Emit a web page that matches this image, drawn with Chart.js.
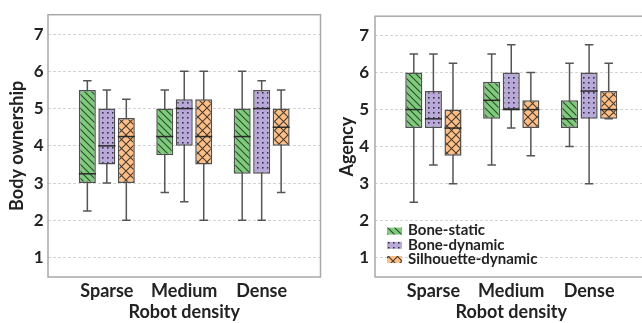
<!DOCTYPE html>
<html><head><meta charset="utf-8">
<script src="https://cdn.jsdelivr.net/npm/chart.js@4/dist/chart.umd.min.js"></script>
<style>
html,body{margin:0;padding:0;background:#fff;overflow:hidden;width:642px;height:323px;}
#wrap{position:relative;width:642px;height:323px;overflow:hidden;}
#c1{position:absolute;left:0;top:0;}
#c2{position:absolute;left:321px;top:0;}
</style></head><body>
<div id="wrap"><canvas id="c1" width="322" height="323"></canvas><canvas id="c2" width="330" height="323"></canvas></div>
<script>
const categories = ['Sparse', 'Medium', 'Dense'];
const seriesNames = ['Bone-static', 'Bone-dynamic', 'Silhouette-dynamic'];
const yTicks = [1, 2, 3, 4, 5, 6, 7];
const xTitle = 'Robot density';
// each entry: [whisker low, Q1, median, Q3, whisker high], one per category
const bodyBoneStatic     = [[2.25, 3, 3.25, 5.5, 5.75], [2.75, 3.75, 4.25, 5, 5.5], [2, 3.25, 4.25, 5, 6]];
const bodyBoneDynamic    = [[3, 3.5, 4, 5, 5.5], [2.5, 4, 5, 5.25, 6], [2, 3.25, 5, 5.5, 5.75]];
const bodySilhouette     = [[2, 3, 4.25, 4.75, 5.25], [2, 3.5, 4.25, 5.25, 6], [2.75, 4, 4.5, 5, 5.5]];
const agencyBoneStatic   = [[2.5, 4.5, 5, 6, 6.5], [3.5, 4.75, 5.25, 5.75, 6.5], [4, 4.5, 4.75, 5.25, 6.25]];
const agencyBoneDynamic  = [[3.5, 4.5, 4.75, 5.5, 6.5], [4.5, 5, 5, 6, 6.75], [3, 4.75, 5.5, 6, 6.75]];
const agencySilhouette   = [[3, 3.75, 4.5, 5, 6.25], [3.75, 4.5, 5, 5.25, 6], [4.75, 4.75, 5, 5.5, 6.25]];

const FONT = 'Lato, "Open Sans", sans-serif';
const TXT = '#222';

function makePattern(kind, bg, fg) {
  const s = kind === 'hatch' ? 7 : (kind === 'dots' ? 5 : 9);
  const c = document.createElement('canvas'); c.width = s; c.height = s;
  const g = c.getContext('2d');
  g.fillStyle = bg; g.fillRect(0, 0, s, s);
  g.strokeStyle = fg; g.fillStyle = fg; g.lineWidth = 1.1;
  if (kind === 'hatch') {
    g.beginPath();
    g.moveTo(-1, -1); g.lineTo(s + 1, s + 1);
    g.moveTo(-1, s - 1); g.lineTo(1, s + 1);
    g.moveTo(s - 1, -1); g.lineTo(s + 1, 1);
    g.stroke();
  } else if (kind === 'dots') {
    g.fillRect(2, 2, 1.6, 1.6);
  } else {
    g.beginPath();
    g.moveTo(-1, -1); g.lineTo(s + 1, s + 1);
    g.moveTo(s + 1, -1); g.lineTo(-1, s + 1);
    g.stroke();
  }
  return g.createPattern(c, 'repeat');
}
const fills = [
  makePattern('hatch', '#7fcb7c', '#2f4a2f'),
  makePattern('dots', '#b9a9d9', '#35304a'),
  makePattern('cross', '#fdbf87', '#4a3c2e')
];

function datasetsFrom(seriesList) {
  return seriesList.map((s, k) => ({
    label: seriesNames[k],
    data: categories.map((c, i) => ({ x: i, y: [s[i][1], s[i][3]], stats: s[i] })),
    backgroundColor: fills[k],
    borderColor: '#505050',
    borderWidth: 1.5,
    borderSkipped: false,
    categoryPercentage: 0.755,
    barPercentage: 0.872
  }));
}

const boxPlugin = {
  id: 'box',
  beforeDatasetsDraw(chart) {
    const ctx = chart.ctx, ys = chart.scales.y;
    ctx.save();
    ctx.strokeStyle = '#555'; ctx.lineWidth = 1.5;
    chart.data.datasets.forEach((ds, di) => {
      chart.getDatasetMeta(di).data.forEach((bar, i) => {
        const st = ds.data[i].stats;
        const lo = ys.getPixelForValue(st[0]), hi = ys.getPixelForValue(st[4]);
        const cw = bar.width / 2;
        ctx.beginPath();
        ctx.moveTo(bar.x, lo); ctx.lineTo(bar.x, hi);
        ctx.moveTo(bar.x - cw / 2, lo); ctx.lineTo(bar.x + cw / 2, lo);
        ctx.moveTo(bar.x - cw / 2, hi); ctx.lineTo(bar.x + cw / 2, hi);
        ctx.stroke();
      });
    });
    ctx.restore();
  },
  afterDatasetsDraw(chart) {
    const ctx = chart.ctx, ys = chart.scales.y;
    ctx.save();
    ctx.strokeStyle = '#2a2a2a'; ctx.lineWidth = 1.5;
    chart.data.datasets.forEach((ds, di) => {
      chart.getDatasetMeta(di).data.forEach((bar, i) => {
        const m = ys.getPixelForValue(ds.data[i].stats[2]);
        ctx.beginPath();
        ctx.moveTo(bar.x - bar.width / 2, m); ctx.lineTo(bar.x + bar.width / 2, m);
        ctx.stroke();
      });
    });
    const a = chart.chartArea;
    ctx.strokeStyle = '#a8a8a8'; ctx.lineWidth = 1.5;
    ctx.strokeRect(a.left, a.top, a.right - a.left, a.bottom - a.top);
    ctx.restore();
  }
};

const legendPlugin = {
  id: 'boxLegend',
  afterDraw(chart, args, opts) {
    if (!opts.show) return;
    const ctx = chart.ctx, a = chart.chartArea;
    const n = chart.data.datasets.length;
    ctx.save();
    ctx.font = 'bold 15px ' + FONT;
    ctx.textBaseline = 'middle'; ctx.textAlign = 'left';
    chart.data.datasets.forEach((ds, i) => {
      const cy = a.bottom - 18 - (n - 1 - i) * 14.2;
      ctx.fillStyle = ds.backgroundColor;
      ctx.fillRect(a.left + 12, cy - 3, 15, 7);
      ctx.fillStyle = TXT;
      ctx.fillText(ds.label, a.left + 33, cy);
    });
    ctx.restore();
  }
};

function makeChart(id, seriesList, yTitle, cfg) {
  return new Chart(document.getElementById(id), {
    type: 'bar',
    data: { datasets: datasetsFrom(seriesList) },
    options: {
      responsive: false, animation: false, devicePixelRatio: 1,
      layout: { padding: { top: 7, right: cfg.padRight, left: 0, bottom: 0 } },
      plugins: { legend: { display: false }, tooltip: { enabled: false }, boxLegend: { show: cfg.legend } },
      scales: {
        x: {
          type: 'linear', offset: false, min: cfg.xmin, max: cfg.xmax,
          afterBuildTicks: s => { s.ticks = categories.map((c, i) => ({ value: i })); },
          afterFit: s => { s.height = 46; },
          grid: { display: false, drawTicks: false }, border: { display: false },
          ticks: { callback: v => categories[v] ?? '', padding: 3, color: TXT, font: { family: FONT, size: 18, weight: 'bold' }, maxRotation: 0, autoSkip: false },
          title: { display: true, text: xTitle, color: TXT, font: { family: FONT, size: 18, weight: 'bold', lineHeight: 1.2 }, padding: { top: 0, bottom: 0 } }
        },
        y: {
          min: 0.48, max: 7.52,
          afterBuildTicks: s => { s.ticks = yTicks.map(v => ({ value: v })); },
          afterFit: s => { s.width = cfg.yWidth; },
          grid: { color: '#d4d4d4', lineWidth: 1, drawTicks: false },
          border: { display: false, dash: [3, 2] },
          ticks: { padding: cfg.tickPad, color: TXT, font: { family: FONT, size: 17, weight: 'bold' } },
          title: { display: true, text: yTitle, color: TXT, font: { family: FONT, size: 18, weight: 'bold', lineHeight: 1.2 }, padding: { top: cfg.titlePad, bottom: 0 } }
        }
      }
    },
    plugins: [boxPlugin, legendPlugin]
  });
}

makeChart('c1', [bodyBoneStatic, bodyBoneDynamic, bodySilhouette], 'Body ownership',
  { xmin: -0.76, xmax: 2.76, yWidth: 48, padRight: 1.5, tickPad: 4.5, titlePad: 6.7, legend: false });
makeChart('c2', [agencyBoneStatic, agencyBoneDynamic, agencySilhouette], 'Agency',
  { xmin: -0.75, xmax: 2.75, yWidth: 54, padRight: 3.5, tickPad: 6, titlePad: 15, legend: true });
</script>
</body></html>
